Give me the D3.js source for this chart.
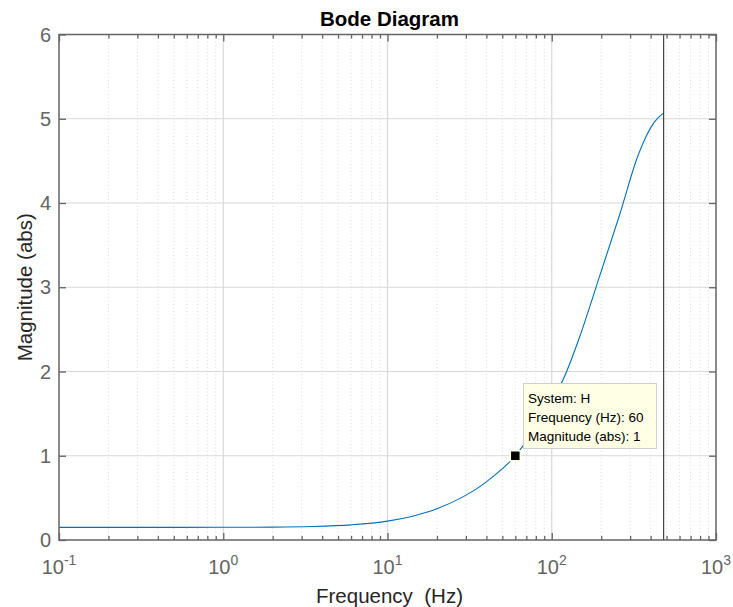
<!DOCTYPE html>
<html>
<head>
<meta charset="utf-8">
<script src="https://cdn.jsdelivr.net/npm/d3@7"></script>
<style>
  html, body { margin: 0; padding: 0; background: #ffffff; }
  svg { display: block; font-family: "Liberation Sans", Arial, Helvetica, sans-serif; }
</style>
</head>
<body>
<svg id="chart" width="733" height="607"></svg>
<script>
// Frequency response samples of system H (magnitude, absolute units)
const freqHz = [0.1, 0.3, 1, 2, 3.5, 6, 10, 14, 20, 28, 35, 45, 55, 60, 67, 80, 100, 117, 149, 197, 259, 336, 421, 480];
const magAbs = [0.150, 0.150, 0.151, 0.153, 0.160, 0.180, 0.224, 0.280, 0.370, 0.500, 0.610, 0.77, 0.92, 1.0, 1.12, 1.34, 1.66, 1.90, 2.43, 3.15, 3.86, 4.57, 4.96, 5.07];

// Axis ticks
const xDecades = [0.1, 1, 10, 100, 1000];
const xExponents = ["-1", "0", "1", "2", "3"];
const yTicks = [0, 1, 2, 3, 4, 5, 6];

// Nyquist frequency marker and data tip
const nyquistHz = 480;
const tipFreq = 60;
const tipMag = 1;
const tipLines = ["System: H", "Frequency (Hz): 60", "Magnitude (abs): 1"];

const svg = d3.select("#chart");
const L = 59, R = 716, T = 34.5, B = 540;

const x = d3.scaleLog().domain([0.1, 1000]).range([L, R]);
const y = d3.scaleLinear().domain([0, 6]).range([B, T]);

const axisColor = "#646464";

// minor decade values 2..9 × 10^k
const minorX = [];
xDecades.slice(0, -1).forEach(d => { for (let k = 2; k <= 9; k++) minorX.push(d * k); });

const grid = svg.append("g");
grid.selectAll("line.minor").data(minorX).enter().append("line")
  .attr("x1", d => x(d)).attr("x2", d => x(d))
  .attr("y1", T).attr("y2", B)
  .attr("stroke", "#dedede").attr("stroke-width", 1)
  .attr("stroke-dasharray", "1,2.5");
grid.selectAll("line.majx").data(xDecades.slice(1, -1)).enter().append("line")
  .attr("x1", d => x(d)).attr("x2", d => x(d))
  .attr("y1", T).attr("y2", B)
  .attr("stroke", "#d9d9d9").attr("stroke-width", 1.2);
grid.selectAll("line.majy").data(yTicks.slice(1, -1)).enter().append("line")
  .attr("x1", L).attr("x2", R)
  .attr("y1", d => y(d)).attr("y2", d => y(d))
  .attr("stroke", "#d9d9d9").attr("stroke-width", 1.2);

// magnitude curve
const pts = freqHz.map((f, i) => [f, magAbs[i]]);
const line = d3.line().x(d => x(d[0])).y(d => y(d[1])).curve(d3.curveMonotoneX);
svg.append("path").datum(pts)
  .attr("d", line)
  .attr("fill", "none")
  .attr("stroke", "#0072BD")
  .attr("stroke-width", 1.1);

// Nyquist line
svg.append("line")
  .attr("x1", x(nyquistHz)).attr("x2", x(nyquistHz))
  .attr("y1", T).attr("y2", B)
  .attr("stroke", "#333333").attr("stroke-width", 1.1);

// axes with inward ticks on all four sides
const xAxisB = d3.axisBottom(x).tickValues(xDecades).tickSizeInner(-7).tickSizeOuter(0).tickFormat("");
const xAxisT = d3.axisTop(x).tickValues(xDecades).tickSizeInner(-7).tickSizeOuter(0).tickFormat("");
const xMinB = d3.axisBottom(x).tickValues(minorX).tickSizeInner(-4).tickSizeOuter(0).tickFormat("");
const xMinT = d3.axisTop(x).tickValues(minorX).tickSizeInner(-4).tickSizeOuter(0).tickFormat("");
const yAxisL = d3.axisLeft(y).tickValues(yTicks).tickSizeInner(-7).tickSizeOuter(0).tickFormat("");
const yAxisR = d3.axisRight(y).tickValues(yTicks).tickSizeInner(-7).tickSizeOuter(0).tickFormat("");

function styleAxis(g) {
  g.select(".domain").remove();
  g.selectAll(".tick line").attr("stroke", axisColor).attr("stroke-width", 1.3);
}
svg.append("g").attr("transform", `translate(0,${B})`).call(xAxisB).call(styleAxis);
svg.append("g").attr("transform", `translate(0,${T})`).call(xAxisT).call(styleAxis);
svg.append("g").attr("transform", `translate(0,${B})`).call(xMinB).call(styleAxis);
svg.append("g").attr("transform", `translate(0,${T})`).call(xMinT).call(styleAxis);
svg.append("g").attr("transform", `translate(${L},0)`).call(yAxisL).call(styleAxis);
svg.append("g").attr("transform", `translate(${R},0)`).call(yAxisR).call(styleAxis);

// box
svg.append("rect")
  .attr("x", L).attr("y", T).attr("width", R - L).attr("height", B - T)
  .attr("fill", "none").attr("stroke", axisColor).attr("stroke-width", 1.5);

// y tick labels
svg.append("g").selectAll("text").data(yTicks).enter().append("text")
  .attr("x", L - 8).attr("y", d => y(d)).attr("dy", "0.35em")
  .attr("text-anchor", "end")
  .attr("font-size", 20).attr("fill", axisColor)
  .text(d => d);

// x tick labels as powers of ten
const xl = svg.append("g").selectAll("text").data(xDecades).enter().append("text")
  .attr("x", d => x(d)).attr("y", 574)
  .attr("text-anchor", "middle")
  .attr("font-size", 20).attr("fill", axisColor);
xl.append("tspan").text("10");
xl.append("tspan").attr("dy", -9).attr("font-size", 14).text((d, i) => xExponents[i]);

// titles
svg.append("text")
  .attr("x", (L + R) / 2 + 2).attr("y", 26)
  .attr("text-anchor", "middle")
  .attr("font-size", 20.5).attr("font-weight", "bold").attr("fill", "#000000")
  .text("Bode Diagram");
svg.append("text")
  .attr("x", (L + R) / 2 + 2).attr("y", 603)
  .attr("text-anchor", "middle")
  .attr("font-size", 20.5).attr("fill", "#262626")
  .attr("xml:space", "preserve")
  .style("white-space", "pre")
  .text("Frequency  (Hz)");
svg.append("text")
  .attr("transform", `translate(31.5,${(T + B) / 2}) rotate(-90)`)
  .attr("text-anchor", "middle")
  .attr("font-size", 20.5).attr("fill", "#262626")
  .text("Magnitude (abs)");

// data tip marker
svg.append("rect")
  .attr("x", x(tipFreq) - 5).attr("y", y(tipMag) - 5)
  .attr("width", 10).attr("height", 10)
  .attr("fill", "#000000").attr("stroke", "#ffffe6").attr("stroke-width", 1.5);

// data tip box
const tipX = 523.5, tipY = 383.5, tipW = 133, tipH = 65;
svg.append("rect")
  .attr("x", tipX).attr("y", tipY).attr("width", tipW).attr("height", tipH)
  .attr("fill", "#ffffe6").attr("stroke", "#cfcfcf").attr("stroke-width", 1);
svg.append("g").selectAll("text").data(tipLines).enter().append("text")
  .attr("x", tipX + 4.5).attr("y", (d, i) => tipY + 19 + i * 19)
  .attr("font-size", 13.5).attr("fill", "#000000")
  .text(d => d);
</script>
</body>
</html>
